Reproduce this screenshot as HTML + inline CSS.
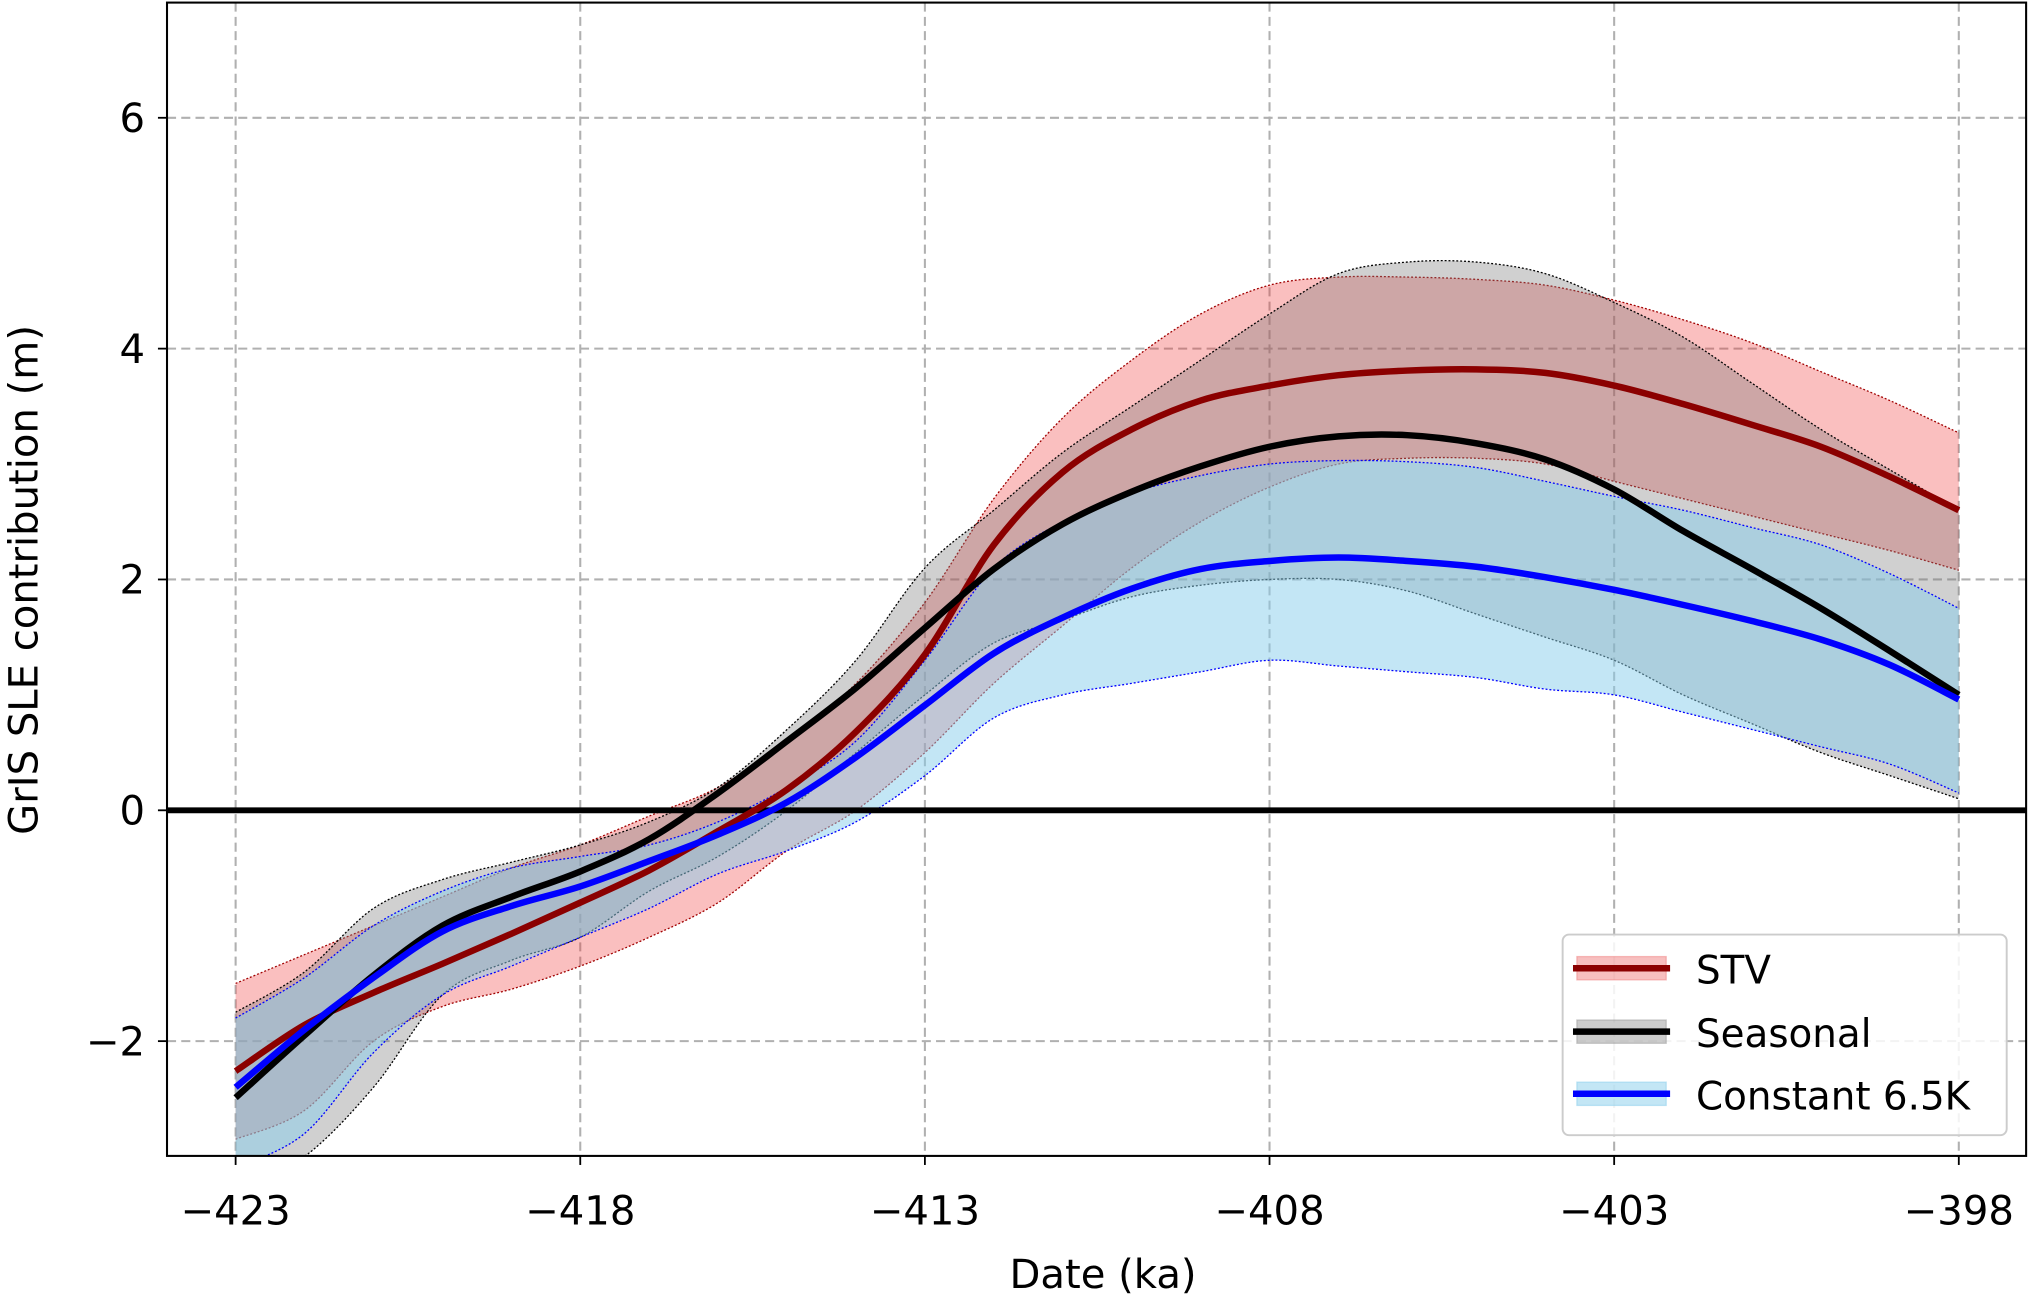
<!DOCTYPE html>
<html><head><meta charset="utf-8"><style>
html,body{margin:0;padding:0;background:#fff}
svg{display:block;font-family:"DejaVu Sans","Liberation Sans",sans-serif}
</style></head><body>
<svg id="chart" width="2030" height="1297" viewBox="0 0 1568 1002" preserveAspectRatio="none">
<defs><clipPath id="clip"><rect x="129" y="2" width="1436" height="891"/></clipPath></defs>
<g id="grid"></g>
<g id="series" clip-path="url(#clip)"></g>
<rect x="129" y="2" width="1436" height="891" fill="none" stroke="#000" stroke-width="1.6"/>
<g id="ticks"></g>
<text x="852" y="995" font-size="31" text-anchor="middle">Date (ka)</text>
<text transform="translate(29,448) rotate(-90)" font-size="31" text-anchor="middle">GrIS SLE contribution (m)</text>
<g>
<rect x="1207" y="722" width="343" height="155" rx="5" fill="#fff" fill-opacity="0.85" stroke="#ccc" stroke-width="1.5"/>
<g>
<rect x="1218" y="739" width="69" height="18" fill="#f08080" fill-opacity="0.5" stroke="#f08080" stroke-opacity="0.5"/>
<line x1="1215" y1="748" x2="1290" y2="748" stroke="#8b0000" stroke-width="5"/>
<text x="1310" y="760" font-size="30">STV</text></g>
<g>
<rect x="1218" y="788" width="69" height="18" fill="#999" fill-opacity="0.5" stroke="#999" stroke-opacity="0.5"/>
<line x1="1215" y1="797" x2="1290" y2="797" stroke="#000" stroke-width="5"/>
<text x="1310" y="809" font-size="30">Seasonal</text></g>
<g>
<rect x="1218" y="836" width="69" height="18" fill="#87ceeb" fill-opacity="0.5" stroke="#87ceeb" stroke-opacity="0.5"/>
<line x1="1215" y1="845" x2="1290" y2="845" stroke="#0000ff" stroke-width="5"/>
<text x="1310" y="857" font-size="30">Constant 6.5K</text></g>
</g>
</svg>
<script>
const years = [-423,-422,-421,-420,-419,-418,-417,-416,-415,-414,-413,-412,-411,-410,-409,-408,-407,-406,-405,-404,-403,-402,-401,-400,-399,-398];
const stvMean = [-2.26,-1.86,-1.58,-1.33,-1.07,-0.8,-0.52,-0.18,0.18,0.68,1.35,2.3,2.93,3.3,3.55,3.68,3.77,3.81,3.82,3.79,3.68,3.52,3.34,3.15,2.89,2.6];
const stvUpper = [-1.5,-1.25,-1.0,-0.75,-0.5,-0.3,-0.05,0.2,0.6,1.1,1.8,2.7,3.4,3.9,4.3,4.55,4.62,4.62,4.6,4.55,4.42,4.25,4.05,3.8,3.55,3.27];
const stvLower = [-2.85,-2.6,-2.0,-1.7,-1.55,-1.35,-1.1,-0.8,-0.35,0.0,0.5,1.1,1.6,2.1,2.5,2.8,3.0,3.05,3.05,3.0,2.85,2.7,2.55,2.4,2.25,2.08];
const seasMean = [-2.49,-1.95,-1.43,-1.0,-0.75,-0.53,-0.25,0.15,0.6,1.06,1.58,2.09,2.48,2.76,2.98,3.15,3.24,3.25,3.18,3.04,2.78,2.42,2.09,1.75,1.38,1.0];
const seasUpper = [-1.75,-1.4,-0.85,-0.6,-0.45,-0.3,-0.1,0.2,0.7,1.3,2.1,2.6,3.1,3.5,3.9,4.3,4.65,4.75,4.75,4.65,4.4,4.1,3.7,3.3,2.95,2.6];
const seasLower = [-3.3,-3.0,-2.4,-1.6,-1.3,-1.1,-0.7,-0.4,0.0,0.5,1.0,1.45,1.65,1.85,1.95,2.0,2.0,1.9,1.7,1.5,1.3,1.0,0.75,0.5,0.3,0.1];
const constMean = [-2.4,-1.9,-1.45,-1.05,-0.83,-0.66,-0.44,-0.21,0.07,0.46,0.91,1.36,1.67,1.92,2.09,2.16,2.19,2.16,2.11,2.02,1.91,1.78,1.64,1.48,1.26,0.96];
const constUpper = [-1.8,-1.45,-1.0,-0.7,-0.5,-0.4,-0.3,-0.1,0.2,0.6,1.3,2.1,2.5,2.75,2.9,3.0,3.03,3.02,2.97,2.85,2.72,2.6,2.45,2.3,2.05,1.75];
const constLower = [-3.1,-2.8,-2.1,-1.6,-1.35,-1.1,-0.85,-0.55,-0.35,-0.1,0.3,0.8,1.0,1.1,1.2,1.3,1.25,1.2,1.15,1.05,1.0,0.85,0.7,0.55,0.4,0.15];
const xTicks = [-423,-418,-413,-408,-403,-398];
const yTicks = [-2,0,2,4,6];

const NS='http://www.w3.org/2000/svg';
const X = v => 182 + (v + 423) * (1513 - 182) / 25;
const Y = v => 626 - v * (626 - 91) / 6;
function el(tag, attrs, parent){const e=document.createElementNS(NS,tag);for(const k in attrs)e.setAttribute(k,attrs[k]);parent.appendChild(e);return e;}
function smooth(pts){
  let d='M'+pts[0][0]+','+pts[0][1];
  for(let i=0;i<pts.length-1;i++){
    const p0=pts[Math.max(i-1,0)],p1=pts[i],p2=pts[i+1],p3=pts[Math.min(i+2,pts.length-1)];
    d+=' C'+(p1[0]+(p2[0]-p0[0])/6)+','+(p1[1]+(p2[1]-p0[1])/6)+' '+(p2[0]-(p3[0]-p1[0])/6)+','+(p2[1]-(p3[1]-p1[1])/6)+' '+p2[0]+','+p2[1];
  }
  return d;
}
const pts = arr => arr.map((v,i)=>[X(years[i]),Y(v)]);
const grid=document.getElementById('grid'), series=document.getElementById('series'), ticks=document.getElementById('ticks');
xTicks.forEach(t=>{
  const g=el('line',{x1:X(t),x2:X(t),y1:2,y2:893,stroke:'#b0b0b0','stroke-width':1.6,'stroke-dasharray':'7,4'},grid);
  
  
  el('line',{x1:X(t),x2:X(t),y1:893,y2:900,stroke:'#000','stroke-width':1.4},ticks);
  const tx=el('text',{x:X(t),y:946,'font-size':31,'text-anchor':'middle'},ticks);
  tx.textContent=String(t).replace('-','\u2212');
  
  
});
yTicks.forEach(t=>{
  const g=el('line',{x1:129,x2:1565,y1:Y(t),y2:Y(t),stroke:'#b0b0b0','stroke-width':1.6,'stroke-dasharray':'7,4'},grid);
  
  
  el('line',{x1:122,x2:129,y1:Y(t),y2:Y(t),stroke:'#000','stroke-width':1.4},ticks);
  const tx=el('text',{x:112,y:Y(t)+11,'font-size':31,'text-anchor':'end'},ticks);
  tx.textContent=String(t).replace('-','\u2212');
  
  
});
function band(up,lo,fill,op,edge,name){
  const u=pts(up), l=pts(lo).reverse();
  const d=smooth(u)+' L'+smooth(l).slice(1)+' Z';
  const p=el('path',{d:d,fill:fill,'fill-opacity':op,stroke:'none'},series);
  
  
  [up,lo].forEach(a=>{
    const e=el('path',{d:smooth(pts(a)),fill:'none',stroke:edge,'stroke-width':1,'stroke-dasharray':'1.5,1.5'},series);
    
    
  });
}
band(stvUpper,stvLower,'#ee2a2a',0.3,'#a00000','stv-band');
band(seasUpper,seasLower,'#777',0.35,'#000','seasonal-band');
band(constUpper,constLower,'#87ceeb',0.5,'#0000ff','constant-band');
const z=el('line',{x1:129,x2:1565,y1:Y(0),y2:Y(0),stroke:'#000','stroke-width':4.5},series);


[[stvMean,'#8b0000','stv-line'],[seasMean,'#000','seasonal-line'],[constMean,'#0000ff','constant-line']].forEach(s=>{
  const p=el('path',{d:smooth(pts(s[0])),fill:'none',stroke:s[1],'stroke-width':5},series);
  
  
});
</script>
</body></html>
